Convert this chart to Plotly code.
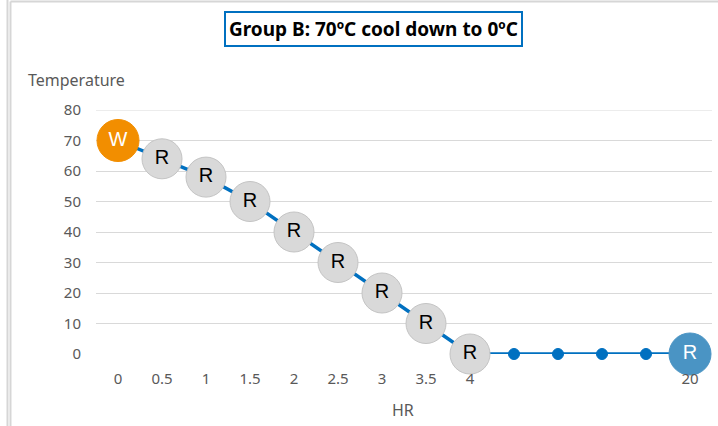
import plotly.graph_objects as go

# ---- data ----
tick_labels = ["0", "0.5", "1", "1.5", "2", "2.5", "3", "3.5", "4", "", "", "", "", "20"]
temperature = [70, 64, 58, 50, 40, 30, 20, 10, 0, 0, 0, 0, 0, 0]
point_labels = ["W", "R", "R", "R", "R", "R", "R", "R", "R", "", "", "", "", "R"]
title_text = "Group B: 70ºC cool down to 0ºC"
y_title = "Temperature"
x_title = "HR"
y_ticks = [0, 10, 20, 30, 40, 50, 60, 70, 80]

x_pos = list(range(len(tick_labels)))

# ---- styles derived from labels ----
sizes, colors, line_cols, text_cols = [], [], [], []
last = len(point_labels) - 1
for i, lab in enumerate(point_labels):
    if lab == "":
        sizes.append(11); colors.append("#0070C0"); line_cols.append("#0070C0"); text_cols.append("black")
    elif lab == "W":
        sizes.append(42); colors.append("#F28E00"); line_cols.append("#F28E00"); text_cols.append("white")
    elif i == last:
        sizes.append(42); colors.append("#4A94C4"); line_cols.append("#4A94C4"); text_cols.append("white")
    else:
        sizes.append(40); colors.append("#D9D9D9"); line_cols.append("#C4C4C4"); text_cols.append("black")

fig = go.Figure()
fig.add_trace(go.Scatter(
    x=x_pos, y=temperature,
    mode="lines+markers+text",
    line=dict(color="#0070C0", width=3.5),
    marker=dict(size=sizes, color=colors, line=dict(color=line_cols, width=1), opacity=1),
    text=point_labels,
    textposition="middle center",
    textfont=dict(family="Liberation Sans, Arial", size=20, color=text_cols),
    cliponaxis=False,
    hoverinfo="skip",
    showlegend=False,
))

tick_vals = [p for p, t in zip(x_pos, tick_labels) if t != ""]
tick_txt = [t for t in tick_labels if t != ""]

axis_font = dict(family="Noto Sans, Open Sans, sans-serif", size=15, color="#595959")

fig.update_layout(
    width=718, height=426,
    margin=dict(l=96, r=6, t=110, b=72),
    paper_bgcolor="white", plot_bgcolor="white",
    xaxis=dict(
        range=[-0.5, len(tick_labels) - 0.5],
        tickvals=tick_vals, ticktext=tick_txt,
        showgrid=False, zeroline=False, showline=False,
        tickfont=axis_font, ticks="", ticklabelstandoff=14,
        fixedrange=True,
    ),
    yaxis=dict(
        range=[0, max(y_ticks)], tickvals=y_ticks,
        showgrid=True, gridcolor="#D9D9D9", gridwidth=1,
        zeroline=False, showline=False,
        tickfont=axis_font, ticks="", ticklabelstandoff=14,
        fixedrange=True,
    ),
    annotations=[
        dict(text="<b>" + title_text + "</b>", xref="paper", yref="paper",
             x=0.4505, y=1.334, xanchor="center", yanchor="middle", showarrow=False,
             font=dict(family="Noto Sans, Open Sans, sans-serif", size=19, color="black"),
             bordercolor="#0070C0", borderwidth=2, borderpad=3, bgcolor="white"),
        dict(text=y_title, xref="paper", yref="paper",
             x=-0.114, y=1.123, xanchor="left", yanchor="middle", showarrow=False,
             font=dict(family="Noto Sans, Open Sans, sans-serif", size=16, color="#595959")),
        dict(text=x_title, xref="paper", yref="paper",
             x=0.498, y=-0.2295, xanchor="center", yanchor="middle", showarrow=False,
             font=dict(family="Noto Sans, Open Sans, sans-serif", size=16, color="#595959")),
    ],
    shapes=[
        # top gridline (plotly skips the gridline at the range edge)
        dict(type="line", xref="paper", yref="y", x0=0, x1=1, y0=max(y_ticks), y1=max(y_ticks),
             line=dict(color="#D9D9D9", width=1), layer="below"),
        dict(type="line", xref="paper", yref="paper", x0=-0.1437, x1=-0.1437, y0=1.46, y1=-0.3,
             line=dict(color="#D6D6D6", width=2)),
        dict(type="line", xref="paper", yref="paper", x0=-0.1388, x1=-0.1388, y0=1.4447, y1=-0.3,
             line=dict(color="#D6D6D6", width=2)),
        dict(type="line", xref="paper", yref="paper", x0=-0.1388, x1=1.02, y0=1.4447, y1=1.4447,
             line=dict(color="#D6D6D6", width=2)),
    ],
)

fig.write_html("out.html")
